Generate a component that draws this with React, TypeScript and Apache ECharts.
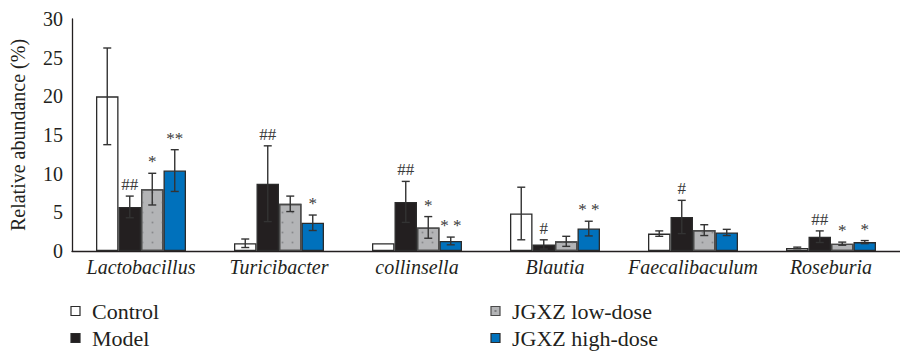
import React, { useEffect, useRef } from "react";
import * as echarts from "echarts";

const categories = ["Lactobacillus", "Turicibacter", "collinsella", "Blautia", "Faecalibaculum", "Roseburia"];
const seriesNames = ["Control", "Model", "JGXZ low-dose", "JGXZ high-dose"];

const controlMean = [20.0, 1.0, 1.0, 4.85, 2.25, 0.4];
const controlErr = [6.25, 0.55, 0, 3.4, 0.35, 0.1];
const modelMean = [5.7, 8.7, 6.35, 0.85, 4.4, 1.85];
const modelErr = [1.4, 4.9, 2.65, 0.6, 2.15, 0.75];
const lowMean = [8.0, 6.1, 3.05, 1.25, 2.7, 0.95];
const lowErr = [2.05, 1.0, 1.4, 0.65, 0.7, 0.2];
const highMean = [10.4, 3.65, 1.3, 2.9, 2.4, 1.15];
const highErr = [2.7, 1.0, 0.5, 0.95, 0.4, 0.2];

const controlMark = ["", "", "", "", "", ""];
const modelMark = ["##", "##", "##", "#", "#", "##"];
const lowMark = ["*", "", "*", "", "", "*"];
const highMark = ["**", "*", "* *", "* *", "", "*"];

const yTicks = [0, 5, 10, 15, 20, 25, 30];

const FONT = "serif";
const BAR_W = 22.5;

export default function App() {
  const ref = useRef<HTMLDivElement>(null);
  useEffect(() => {
    if (!ref.current) return;
    const chart = echarts.init(ref.current, undefined, { renderer: "svg" });
    const means = [controlMean, modelMean, lowMean, highMean];
    const errs = [controlErr, modelErr, lowErr, highErr];
    const marks = [controlMark, modelMark, lowMark, highMark];
    const fills = ["#ffffff", "#231f20", "#b3b4b6", "#0071bc"];
    const borders = ["#2b2b2b", "#2b2b2b", "#4a4a4a", "#2b2b2b"];
    const styles: any[] = fills.map((c, i) => ({ color: c, borderColor: borders[i], borderWidth: 1.3 }));
    styles[2].decal = { symbol: "rect", symbolSize: 0.35, color: "#88898c" };
    const barSeries = seriesNames.map((name, si) => ({
      name,
      type: "bar",
      barWidth: BAR_W,
      barGap: "0%",
      data: means[si],
      itemStyle: styles[si],
      z: 2,
    }));
    const errSeries = seriesNames.map((name, si) => ({
      name: name + "-err",
      type: "custom",
      z: 5,
      silent: true,
      itemStyle: { color: "#333333" },
      data: means[si].map((m, i) => [i, m, errs[si][i]]),
      renderItem: (params: any, api: any) => {
        const ci = api.value(0);
        const m = api.value(1);
        const e = api.value(2);
        const base = api.coord([ci, m]);
        const hi = api.coord([ci, m + e]);
        const lo = api.coord([ci, m - e]);
        const x = base[0] + (si - 1.5) * BAR_W;
        const cap = 4;
        const st = { stroke: "#333333", lineWidth: 1.4 };
        const children: any[] = [];
        if (e > 0) {
          children.push({ type: "line", shape: { x1: x, y1: hi[1], x2: x, y2: lo[1] }, style: st });
          children.push({ type: "line", shape: { x1: x - cap, y1: hi[1], x2: x + cap, y2: hi[1] }, style: st });
          children.push({ type: "line", shape: { x1: x - cap, y1: lo[1], x2: x + cap, y2: lo[1] }, style: st });
        }
        const mk = marks[si][params.dataIndex];
        if (mk) {
          children.push({
            type: "text",
            style: {
              text: mk,
              x,
              y: hi[1] - 3,
              align: "center",
              verticalAlign: "bottom",
              fill: "#3a3a3a",
              fontFamily: FONT,
              fontSize: 17,
            },
          });
        }
        return { type: "group", children };
      },
    }));
    const legendPos = [
      [71, 311],
      [71, 338],
      [491, 311],
      [491, 338],
    ];
    const legendGraphics: any[] = [];
    seriesNames.forEach((name, i) => {
      const [lx, ly] = legendPos[i];
      legendGraphics.push({
        type: "rect",
        shape: { x: lx, y: ly - 4.5, width: 9, height: 9 },
        style: { fill: fills[i], stroke: borders[i], lineWidth: 1.2 },
      });
      if (i === 2) {
        legendGraphics.push({
          type: "rect",
          shape: { x: lx + 3.5, y: ly - 1, width: 2, height: 2 },
          style: { fill: "#7d7e80" },
        });
      }
      legendGraphics.push({
        type: "text",
        x: lx + 21,
        y: ly,
        style: {
          text: name,
          fontFamily: FONT,
          fontSize: 22,
          fill: "#231f20",
          verticalAlign: "middle",
          align: "left",
        },
      });
    });
    chart.setOption({
      animation: false,
      grid: { left: 70, top: 19, bottom: 100, width: 841 },
      graphic: legendGraphics,
      xAxis: {
        type: "category",
        data: categories,
        axisLine: { lineStyle: { color: "#231f20", width: 1.3 } },
        axisTick: { show: false },
        axisLabel: {
          fontFamily: FONT,
          fontStyle: "italic",
          fontSize: 20,
          color: "#231f20",
          margin: 6,
          interval: 0,
        },
      },
      yAxis: {
        type: "value",
        min: yTicks[0],
        max: yTicks[yTicks.length - 1],
        interval: 5,
        name: "Relative abundance (%)",
        nameLocation: "middle",
        nameGap: 44,
        nameTextStyle: { fontFamily: FONT, fontSize: 20, color: "#231f20" },
        axisLine: { show: true, lineStyle: { color: "#231f20", width: 1.3 } },
        axisTick: { show: false },
        splitLine: { show: false },
        axisLabel: { fontFamily: FONT, fontSize: 20, color: "#231f20", margin: 9 },
      },
      series: [...barSeries, ...errSeries],
    });
    return () => chart.dispose();
  }, []);
  return <div ref={ref} style={{ position: "absolute", left: 0, top: 0, width: 900, height: 351 }} />;
}
